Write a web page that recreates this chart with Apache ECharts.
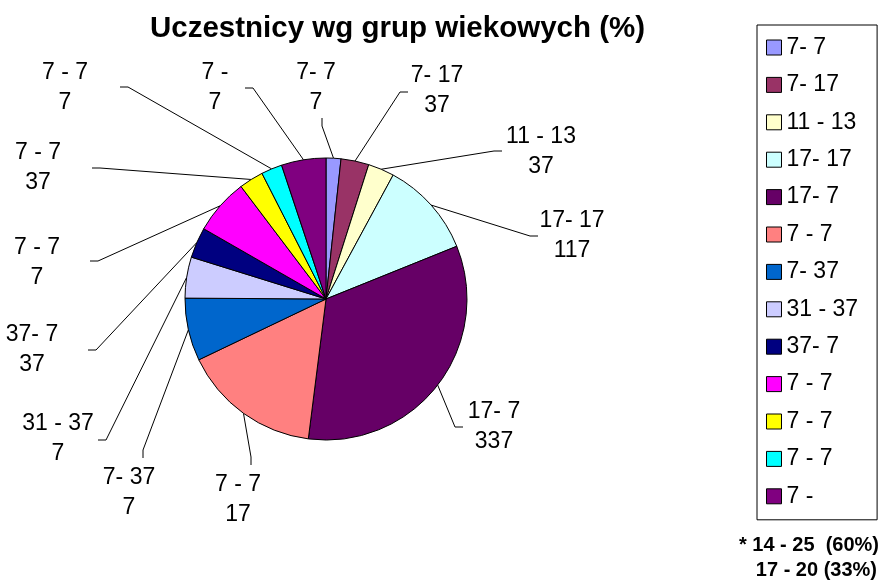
<!DOCTYPE html>
<html>
<head>
<meta charset="utf-8">
<script src="https://cdn.jsdelivr.net/npm/echarts@6/dist/echarts.min.js"></script>
<style>
  html, body { margin: 0; padding: 0; background: #fff; }
  #chart { width: 883px; height: 583px; }
</style>
</head>
<body>
<div id="chart"></div>
<script>
// slice names (trailing spaces keep duplicate legend names apart)
const sliceNames = ['7- 7', '7- 17', '11 - 13', '17- 17', '17- 7', '7 - 7', '7- 37', '31 - 37', '37- 7', '7 - 7 ', '7 - 7  ', '7 - 7   ', '7 -'];
const shares = [1.7, 3.2, 3.0, 11.0, 33.1, 15.9, 7.2, 4.7, 3.5, 6.4, 2.8, 2.4, 5.1];
const valueTexts = ['7', '37', '37', '117', '337', '17', '7', '7', '37', '7', '37', '7', '7'];
const sliceColors = ['#9999FF', '#993366', '#FFFFCC', '#CCFFFF', '#660066', '#FF8080', '#0066CC', '#CCCCFF', '#000080', '#FF00FF', '#FFFF00', '#00FFFF', '#800080'];
const noteLines = ['* 14 - 25  (60%)', '17 - 20 (33%)'];

// where each label sits: centre x, centre y, line anchor x, anchor y, side of label
const labelSpots = [
  [316, 88, 322, 118, 'b'],
  [437, 91, 408, 92, 'l'],
  [541, 152, 502, 151, 'l'],
  [572, 236, 538, 236, 'l'],
  [494, 427, 463, 427, 'l'],
  [238, 500, 251, 465, 't'],
  [129, 493, 143, 458, 't'],
  [58, 439, 98, 440, 'r'],
  [32, 350, 88, 350, 'r'],
  [37, 263, 90, 261, 'r'],
  [38, 168, 92, 168, 'r'],
  [65, 88, 120, 87, 'r'],
  [215, 88, 245, 88, 'r']
];

const FONT = "'Liberation Sans', Arial, sans-serif";
const pieCenter = [326, 299];
const pieRadius = 141;

const chart = echarts.init(document.getElementById('chart'));

const pieData = sliceNames.map((n, i) => ({
  name: n,
  value: shares[i],
  itemStyle: { color: sliceColors[i] }
}));

function edgePoint(i) {
  // fallback: point on the rim at the slice's middle angle
  let before = 0;
  const total = shares.reduce((a, b) => a + b, 0);
  for (let k = 0; k < i; k++) before += shares[k];
  const a = ((before + shares[i] / 2) / total) * Math.PI * 2;
  return [pieCenter[0] + pieRadius * Math.sin(a), pieCenter[1] - pieRadius * Math.cos(a)];
}

const option = {
  animation: false,
  backgroundColor: '#fff',
  title: {
    text: 'Uczestnicy wg grup wiekowych (%)',
    left: 145,
    top: 9,
    textStyle: { fontFamily: FONT, fontSize: 29.5, fontWeight: 'bold', color: '#000' }
  },
  legend: {
    orient: 'vertical',
    left: 757,
    top: 25,
    padding: [11, 19, 12, 9],
    itemGap: 14.4,
    itemWidth: 15,
    itemHeight: 15,
    icon: 'rect',
    borderColor: '#000',
    borderWidth: 1,
    selectedMode: false,
    itemStyle: { borderColor: '#000', borderWidth: 1 },
    textStyle: { fontFamily: FONT, fontSize: 23, color: '#000', lineHeight: 23 },
    data: sliceNames
  },
  graphic: noteLines.map((t, i) => ({
    type: 'text',
    right: i === 0 ? 4 : 6,
    top: 535 + i * 25,
    style: { text: t, font: 'bold 20px ' + FONT, fill: '#000' }
  })),
  series: [{
    type: 'pie',
    center: pieCenter,
    radius: pieRadius,
    startAngle: 90,
    clockwise: true,
    avoidLabelOverlap: false,
    itemStyle: { borderColor: '#000', borderWidth: 1 },
    emphasis: { disabled: true },
    label: {
      show: true,
      position: 'outside',
      color: '#000',
      formatter: p => '{n|' + p.name.trim() + '}\n{v|' + valueTexts[p.dataIndex] + '}',
      rich: {
        n: { fontFamily: FONT, fontSize: 23, lineHeight: 30, color: '#000', align: 'center' },
        v: { fontFamily: FONT, fontSize: 23, lineHeight: 30, color: '#000', align: 'center' }
      }
    },
    labelLine: { show: true, length: 20, length2: 8, lineStyle: { color: '#000', width: 1 } },
    labelLayout: function (params) {
      const s = labelSpots[params.dataIndex];
      const p0 = (params.labelLinePoints && params.labelLinePoints[0]) || edgePoint(params.dataIndex);
      const stub = 8;
      let p1;
      if (s[4] === 'l') p1 = [s[2] - stub, s[3]];
      else if (s[4] === 'r') p1 = [s[2] + stub, s[3]];
      else if (s[4] === 't') p1 = [s[2], s[3] - stub];
      else p1 = [s[2], s[3] + stub];
      return {
        x: s[0],
        y: s[1],
        align: 'center',
        verticalAlign: 'middle',
        labelLinePoints: [p0, p1, [s[2], s[3]]]
      };
    },
    data: pieData
  }]
};

chart.setOption(option);
</script>
</body>
</html>
